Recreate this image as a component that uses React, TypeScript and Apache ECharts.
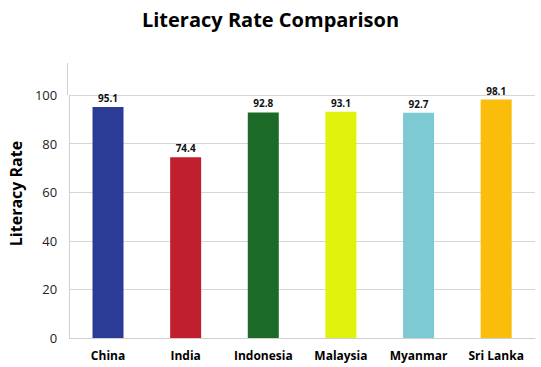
import React, { useEffect, useRef } from "react";
import * as echarts from "echarts";

const categories = ["China", "India", "Indonesia", "Malaysia", "Myanmar", "Sri Lanka"];
const literacyRates = [95.1, 74.4, 92.8, 93.1, 92.7, 98.1];
const barColors = ["#2a3c96", "#c01f30", "#1b6a27", "#e1f20c", "#7dcad3", "#fbbd0b"];
const yTicks = [0, 20, 40, 60, 80, 100];

export default function App() {
  const ref = useRef<HTMLDivElement>(null);
  useEffect(() => {
    if (!ref.current) return;
    const chart = echarts.init(ref.current, null, { renderer: "svg" });
    const font = "'Open Sans', 'Noto Sans', sans-serif";
    chart.setOption({
      animation: false,
      backgroundColor: "#ffffff",
      title: {
        text: "Literacy Rate Comparison",
        left: "center",
        top: 4,
        textStyle: { fontFamily: font, fontWeight: "bold", fontSize: 20, color: "#000" },
      },
      grid: { left: 67, right: 6, top: 95, bottom: 29, containLabel: false },
      graphic: [
        {
          type: "line",
          shape: { x1: 67.5, y1: 63, x2: 67.5, y2: 95 },
          style: { stroke: "#d0d0d0", lineWidth: 1 },
        },
      ],
      xAxis: {
        type: "category",
        data: categories,
        axisLine: { show: true, lineStyle: { color: "#cfcfcf" } },
        axisTick: { show: false },
        axisLabel: {
          fontFamily: font,
          fontWeight: "bold",
          fontSize: 12,
          color: "#000",
          margin: 11,
        },
      },
      yAxis: {
        type: "value",
        min: yTicks[0],
        max: yTicks[yTicks.length - 1],
        interval: 20,
        name: "Literacy Rate",
        nameLocation: "middle",
        nameGap: 36,
        nameRotate: 90,
        nameTextStyle: { fontFamily: font, fontWeight: "bold", fontSize: 16, color: "#000", padding: [0, 0, 0, 46] },
        axisLine: { show: true, lineStyle: { color: "#d0d0d0" } },
        axisTick: { show: false },
        axisLabel: { fontFamily: font, fontSize: 13, color: "#222", margin: 12 },
        splitLine: { show: true, lineStyle: { color: "#d6d6d6" } },
      },
      series: [
        {
          type: "bar",
          barWidth: 31,
          data: literacyRates.map((v, i) => ({ value: v, itemStyle: { color: barColors[i] } })),
          label: {
            show: true,
            position: "top",
            distance: 4,
            fontFamily: font,
            fontWeight: "bold",
            fontSize: 10,
            color: "#111",
          },
        },
      ],
    });
    return () => chart.dispose();
  }, []);
  return (
    <div
      ref={ref}
      style={{ position: "fixed", left: 0, top: 0, width: 541, height: 367 }}
    />
  );
}
